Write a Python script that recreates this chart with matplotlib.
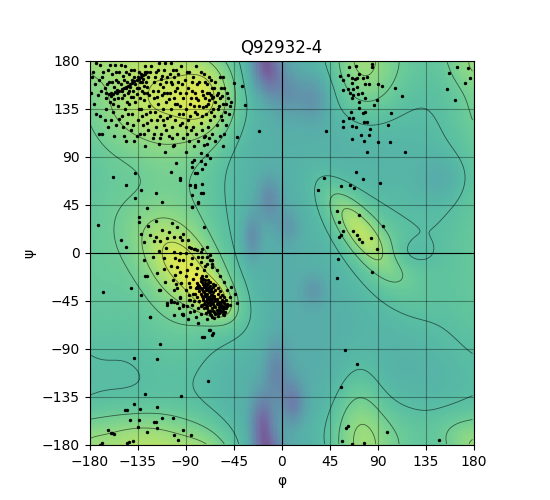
import numpy as np
import matplotlib
matplotlib.use("Agg")
import matplotlib.pyplot as plt

title = "Q92932-4"

# reference density landscape: (phi, psi, sigma_major, sigma_minor, angle, amplitude)
bump_phi = [-120, -68, -140, -100, -85, -64, -175, 72, 75, 95, 80, 72, 115, 175, 160, 140, 115]
bump_psi = [145, 148, -172, 0, -18, -42, 0, 22, 20, -5, 160, -150, -165, 175, -165, 40, 165]
bump_s1 = [45, 20, 45, 40, 45, 14, 25, 30, 45, 65, 25, 18, 60, 15, 15, 45, 55]
bump_s2 = [38, 28, 18, 90, 20, 9, 90, 10, 16, 35, 30, 40, 25, 15, 12, 90, 35]
bump_ang = [0, 0, 0, 0, -45, -45, 0, -54, -50, -50, 0, 0, 0, 0, 0, 0, 0]
bump_amp = [0.30, 0.20, 0.10, 0.22, 0.22, 0.24, 0.09, 0.14, 0.12, 0.10, 0.12, 0.14, 0.08, 0.06, 0.03, 0.05, 0.06]

dip_phi = [-12, 5, -12, -28, -18, -5, 10, 30, 30, 120, 150, 5, 150]
dip_psi = [170, 150, 50, 15, -160, -110, -140, 145, -35, 0, 70, 25, -175]
dip_s1 = [10, 12, 8, 6, 8, 8, 8, 10, 8, 15, 15, 8, 25]
dip_s2 = [15, 15, 15, 15, 20, 20, 15, 15, 10, 10, 15, 12, 25]
dip_amp = [0.30, 0.15, 0.20, 0.20, 0.35, 0.20, 0.25, 0.15, 0.12, 0.06, 0.08, 0.12, 0.04]
base_level = 0.50

contour_levels = [0.6, 0.69, 0.78, 0.88]

# residues (phi, psi)
beta_pts = [
    (-177, 170), (-175, 158), (-172, 148), (-170, 176), (-168, 165), (-166, 155), (-165, 145),
    (-163, 172), (-162, 160), (-160, 150), (-159, 168), (-158, 140), (-157, 156), (-156, 176),
    (-155, 162), (-154, 150), (-153, 145), (-152, 170), (-151, 158), (-150, 152), (-149, 166),
    (-148, 148), (-147, 175), (-146, 155), (-145, 160), (-144, 150), (-143, 168), (-142, 156),
    (-141, 146), (-140, 162), (-139, 152), (-138, 172), (-137, 158), (-136, 149), (-135, 165),
    (-134, 155), (-133, 160), (-132, 168), (-131, 152), (-130, 163), (-129, 157), (-128, 170),
    (-127, 160), (-126, 150), (-125, 165), (-165, 150), (-162, 149), (-160, 147), (-158, 149),
    (-156, 151), (-154, 153), (-152, 152), (-150, 154), (-148, 155), (-146, 156), (-144, 157),
    (-142, 158), (-140, 159), (-138, 161), (-136, 162), (-134, 163), (-132, 165), (-130, 167),
    (-128, 168), (-126, 170), (-178, 165), (-176, 140), (-174, 130), (-179, 150), (-171, 112),
    (-170, 128), (-168, 112), (-165, 135), (-160, 125), (-158, 132), (-155, 120), (-153, 138),
    (-150, 128), (-148, 110), (-147, 135), (-145, 122), (-143, 140), (-141, 115), (-140, 130),
    (-138, 105), (-137, 142), (-135, 125), (-133, 112), (-132, 135), (-130, 120), (-129, 143),
    (-128, 100), (-127, 130), (-125, 115), (-124, 138), (-122, 125), (-121, 108), (-120, 145),
    (-119, 132), (-118, 118), (-116, 140), (-115, 102), (-114, 128), (-113, 112), (-112, 148),
    (-111, 135), (-110, 120), (-109, 95), (-108, 142), (-107, 127), (-106, 110), (-105, 150),
    (-104, 135), (-103, 118), (-102, 100), (-101, 145), (-122, 175), (-120, 160), (-118, 170),
    (-116, 152), (-115, 178), (-113, 163), (-111, 156), (-110, 172), (-108, 160), (-107, 150),
    (-105, 168), (-104, 178), (-103, 158), (-101, 165), (-100, 152), (-99, 172), (-98, 140),
    (-97, 160), (-96, 130), (-95, 150), (-94, 175), (-93, 122), (-92, 145), (-91, 162),
    (-90, 135), (-89, 112), (-88, 155), (-87, 170), (-86, 128), (-85, 145), (-84, 160),
    (-83, 118), (-82, 138), (-81, 150), (-80, 175), (-79, 130), (-78, 143), (-77, 160),
    (-76, 122), (-75, 152), (-74, 137), (-73, 168), (-72, 145), (-71, 130), (-70, 158),
    (-69, 140), (-68, 150), (-67, 125), (-66, 162), (-65, 145), (-64, 135), (-63, 155),
    (-62, 142), (-61, 120), (-60, 150), (-59, 138), (-58, 165), (-57, 128), (-56, 147),
    (-55, 140), (-54, 155), (-53, 132), (-52, 120), (-50, 145), (-48, 138), (-45, 159),
    (-37, 157), (-34, 139), (-21, 114), (-42, 109), (-66, 148), (-64, 146), (-68, 143),
    (-174, 178), (-171, 162), (-169, 152), (-167, 170), (-164, 158), (-161, 176), (-161, 142),
    (-159, 160), (-157, 144), (-155, 170), (-153, 160), (-151, 176), (-150, 145), (-148, 162),
    (-146, 170), (-145, 142), (-143, 152), (-141, 172), (-139, 146), (-138, 165), (-136, 155),
    (-134, 170), (-133, 145), (-131, 160), (-129, 150), (-128, 175), (-126, 156), (-124, 148),
    (-123, 170), (-121, 152), (-119, 165), (-117, 146), (-116, 172), (-114, 158), (-112, 166),
    (-110, 150), (-109, 178), (-107, 165), (-106, 144), (-104, 160), (-102, 172), (-100, 140),
    (-98, 155), (-97, 168), (-95, 138), (-93, 158), (-92, 130), (-90, 150), (-89, 170),
    (-88, 125), (-86, 140), (-84, 152), (-83, 165), (-81, 132), (-80, 145), (-79, 158),
    (-77, 138), (-76, 170), (-75, 128), (-74, 148), (-72, 160), (-71, 138), (-70, 150),
    (-69, 118), (-68, 165), (-66, 132), (-65, 155), (-63, 128), (-62, 160), (-61, 148),
    (-60, 135), (-58, 145), (-57, 155), (-56, 125), (-55, 165), (-54, 112), (-52, 140),
    (-51, 150), (-49, 130), (-47, 142), (-166, 125), (-163, 118), (-157, 110), (-152, 126),
    (-149, 118), (-146, 105), (-144, 130), (-139, 120), (-136, 110), (-134, 135), (-131, 128),
    (-129, 112), (-126, 122), (-123, 132), (-120, 112), (-117, 125), (-114, 108), (-111, 125),
    (-108, 115), (-105, 128), (-103, 108), (-100, 125), (-98, 112), (-95, 120), (-92, 108),
    (-90, 118), (-87, 105), (-85, 115), (-82, 100), (-80, 112), (-78, 105), (-75, 115),
    (-72, 110), (-70, 102), (-68, 108), (-65, 112), (-62, 105), (-58, 110), (-55, 100),
]

bridge_pts = [
    (-90, 95), (-82, 87), (-84, 81), (-76, 86), (-75, 79), (-81, 75), (-70, 92), (-72, 83),
    (-67, 89), (-73, 101), (-73, 109), (-76, 94), (-84, 85), (-79, 75), (-86, 64), (-81, 64),
    (-75, 65), (-74, 56), (-78, 47), (-84, 43), (-73, 24), (-95, 70), (-99, 84), (-101, 101),
    (-93, 12), (-104, 76), (-95, 68), (-137, 75), (-158, 71), (-146, 64), (-132, 59),
    (-118, 56), (-137, 52), (-112, 48), (-126, 42), (-134, 34), (-134, 29), (-172, 26),
    (-151, 12), (-146, 6), (-81, 62), (-76, 56), (-84, 54), (-78, 48), (-84, 43),
]

alpha_pts = [
    (-103, 28), (-123, 17), (-118, 15), (-129, 10), (-120, 11), (-114, 11), (-107, 14),
    (-101, 15), (-95, 15), (-132, 18), (-121, -4), (-110, -5), (-101, 1), (-96, -7),
    (-90, 0), (-85, 5), (-82, 4), (-79, 3), (-76, 1), (-75, -4), (-70, -4), (-67, -7),
    (-65, -10), (-129, -7), (-117, -19), (-126, -22), (-114, -35), (-101, -35), (-104, -44),
    (-107, -49), (-95, -42), (-98, -47), (-92, -49), (-86, -44), (-87, -39), (-89, -50),
    (-82, -54), (-101, -58), (-123, -60), (-92, -58), (-87, 6), (-81, 4), (-75, 4), (-70, 6),
    (-67, -2), (-95, 0), (-100, -5), (-92, -7), (-84, -5), (-76, -8), (-70, -10), (-65, -7),
    (-98, -13), (-89, -16), (-79, -14), (-73, -16), (-65, -13), (-61, -16), (-100, -21),
    (-90, -22), (-83, -24), (-75, -22), (-58, -22), (-54, -27), (-87, -28), (-79, -32),
    (-98, -33), (-90, -35), (-83, -38), (-51, -35), (-48, -41), (-47, -32), (-44, -38),
    (-42, -47), (-104, -46), (-95, -41), (-87, -44), (-92, -50), (-84, -49), (-86, -55),
    (-76, -50), (-76, -57), (-58, -53), (-51, -50), (-48, -49), (-54, -58), (-93, -57),
    (-78, -66), (-67, -72), (-73, -79), (-64, -75), (-75, -79), (-65, -77), (-68, -72),
    (-167, -37), (-141, -33), (-132, -39), (-123, -60), (-128, -22), (-114, -85), (-138, -98),
    (-117, -99), (-69, -120), (-94, -134), (-128, -132), (-107, -47), (-99, -29), (-109, -27),
    (-92, -57), (-101, -46), (-115, -35), (-125, 25), (-118, 30), (-112, 22), (-106, 20),
    (-98, 24), (-92, 18), (-88, 12), (-115, 2), (-108, 5), (-104, -12), (-95, -18), (-85, -10),
    (-80, -20), (-78, -4), (-72, -12), (-110, -15), (-102, -25), (-94, -28), (-86, -32),
    (-82, -45), (-78, -52), (-96, -52), (-88, -62), (-80, -60), (-70, -62),
]

core_pts = [
    (-79, -28), (-77, -31), (-76, -26), (-75, -34), (-74, -29), (-73, -37), (-73, -32),
    (-72, -25), (-72, -40), (-71, -35), (-71, -30), (-70, -43), (-70, -38), (-69, -33),
    (-69, -28), (-68, -46), (-68, -41), (-68, -36), (-67, -31), (-67, -49), (-66, -44),
    (-66, -39), (-66, -34), (-65, -52), (-65, -47), (-65, -42), (-64, -37), (-64, -32),
    (-63, -55), (-63, -50), (-63, -45), (-63, -40), (-62, -35), (-61, -53), (-61, -48),
    (-61, -43), (-60, -38), (-59, -56), (-59, -51), (-59, -46), (-58, -41), (-57, -54),
    (-57, -49), (-56, -44), (-55, -57), (-55, -52), (-54, -47), (-53, -55), (-77, -36),
    (-75, -40), (-74, -44), (-73, -48), (-71, -45), (-70, -50), (-69, -54), (-67, -57),
    (-65, -60), (-78, -33), (-76, -38), (-74, -42), (-72, -46), (-70, -52), (-68, -55),
    (-66, -58), (-63, -61), (-76, -23), (-74, -24), (-71, -22), (-69, -25), (-67, -27),
    (-64, -29), (-62, -30), (-60, -33), (-58, -36), (-56, -39), (-54, -41), (-52, -44),
    (-51, -48), (-52, -52), (-62, -57), (-60, -59), (-73, -52), (-71, -56), (-80, -33),
    (-81, -38), (-79, -41), (-77, -45), (-75, -49), (-78, -30), (-76, -33), (-74, -36),
    (-72, -38), (-70, -41), (-68, -43), (-66, -46), (-64, -48), (-62, -51), (-60, -53),
    (-58, -55), (-75, -27), (-73, -30), (-71, -33), (-69, -35), (-67, -37), (-65, -39),
    (-63, -42), (-61, -45), (-59, -48), (-57, -51), (-55, -54), (-72, -28), (-70, -30),
    (-68, -33), (-66, -36), (-64, -40), (-62, -43), (-60, -46), (-58, -49), (-56, -50),
    (-54, -52), (-69, -47), (-67, -54), (-64, -54), (-61, -56), (-57, -46), (-55, -45),
    (-53, -50), (-71, -49),
]

right_pts = [
    (63, 174), (70, 175), (55, 166), (58, 162), (62, 167), (66, 164), (69, 163), (71, 164),
    (73, 168), (80, 165), (76, 164), (78, 158), (82, 158), (66, 159), (62, 154), (58, 153),
    (67, 154), (71, 156), (64, 150), (67, 148), (72, 149), (75, 150), (78, 145), (66, 145),
    (73, 142), (73, 136), (78, 132), (76, 131), (65, 132), (67, 127), (63, 127), (58, 124),
    (58, 118), (66, 119), (70, 118), (77, 123), (80, 123), (83, 116), (74, 111), (82, 111),
    (66, 107), (77, 105), (90, 104), (42, 114), (80, 95), (103, 131), (100, 120), (102, 104),
    (116, 95), (106, 155), (113, 147), (94, 157), (90, 158), (89, 143), (87, 139), (85, 177),
    (85, 174), (157, 169), (164, 174), (175, 173), (177, 164), (172, 159), (155, 154),
    (163, 143), (40, 70), (34, 59), (56, 63), (64, 64), (68, 61), (70, 76), (76, 69), (92, 66),
    (52, 39), (54, 29), (73, 36), (58, 21), (67, 21), (56, 17), (54, 15), (71, 17), (73, 13),
    (75, 10), (84, 14), (95, 25), (89, 4), (53, -6), (85, -18), (52, -23), (59, -91),
    (71, -104), (56, -126), (62, -162), (60, -164), (99, -168), (57, -176), (66, -179),
    (77, -178), (148, -175),
]

bottom_pts = [
    (-138, -142), (-147, -147), (-145, -147), (-133, -146), (-117, -144), (-142, -157),
    (-134, -157), (-120, -158), (-118, -158), (-112, -155), (-102, -155), (-135, -163),
    (-117, -164), (-126, -168), (-92, -166), (-101, -171), (-85, -171), (-163, -166),
    (-160, -169), (-157, -170), (-159, -169), (-139, -176), (-145, -178), (-143, -177),
    (-168, -178), (-170, -180), (-97, -175),
]


def landscape(P, S):
    F = np.full(P.shape, base_level)
    for cx, cy, s1, s2, ang, amp in zip(bump_phi, bump_psi, bump_s1, bump_s2, bump_ang, bump_amp):
        a = np.deg2rad(ang)
        for sx in (-360, 0, 360):
            for sy in (-360, 0, 360):
                dx = P - (cx + sx)
                dy = S - (cy + sy)
                u = dx * np.cos(a) + dy * np.sin(a)
                v = -dx * np.sin(a) + dy * np.cos(a)
                F += amp * np.exp(-0.5 * ((u / s1) ** 2 + (v / s2) ** 2))
    for cx, cy, s1, s2, amp in zip(dip_phi, dip_psi, dip_s1, dip_s2, dip_amp):
        for sx in (-360, 0, 360):
            for sy in (-360, 0, 360):
                dx = P - (cx + sx)
                dy = S - (cy + sy)
                F -= amp * np.exp(-0.5 * ((dx / s1) ** 2 + (dy / s2) ** 2))
    return F


grid = np.arange(-179, 180, 2)
P, S = np.meshgrid(grid, grid)
Z = landscape(P, S)

fig = plt.figure(figsize=(5.5, 5.0), dpi=100)
ax = fig.add_axes([0.162, 0.11, 0.7, 0.768])

ax.imshow(Z, cmap="viridis", origin="lower", extent=[-180, 180, -180, 180],
          vmin=0, vmax=1, alpha=0.75, interpolation="nearest")
ax.contour(P, S, Z, levels=contour_levels, colors="k", linewidths=0.6, alpha=0.55)

pts = beta_pts + bridge_pts + alpha_pts + core_pts + right_pts + bottom_pts
phi = [p[0] for p in pts]
psi = [p[1] for p in pts]
ax.scatter(phi, psi, s=6, c="k", marker="o", linewidths=0, zorder=5)

ax.axhline(0, color="k", lw=0.8)
ax.axvline(0, color="k", lw=0.8)
ax.grid(color="k", alpha=0.35, lw=0.8)
ticks = np.arange(-180, 181, 45)
ax.set_xticks(ticks)
ax.set_yticks(ticks)
ax.set_xlim(-180, 180)
ax.set_ylim(-180, 180)
ax.set_xlabel("φ")
ax.set_ylabel("ψ")
ax.set_title(title)

fig.savefig("out.png", dpi=100)
